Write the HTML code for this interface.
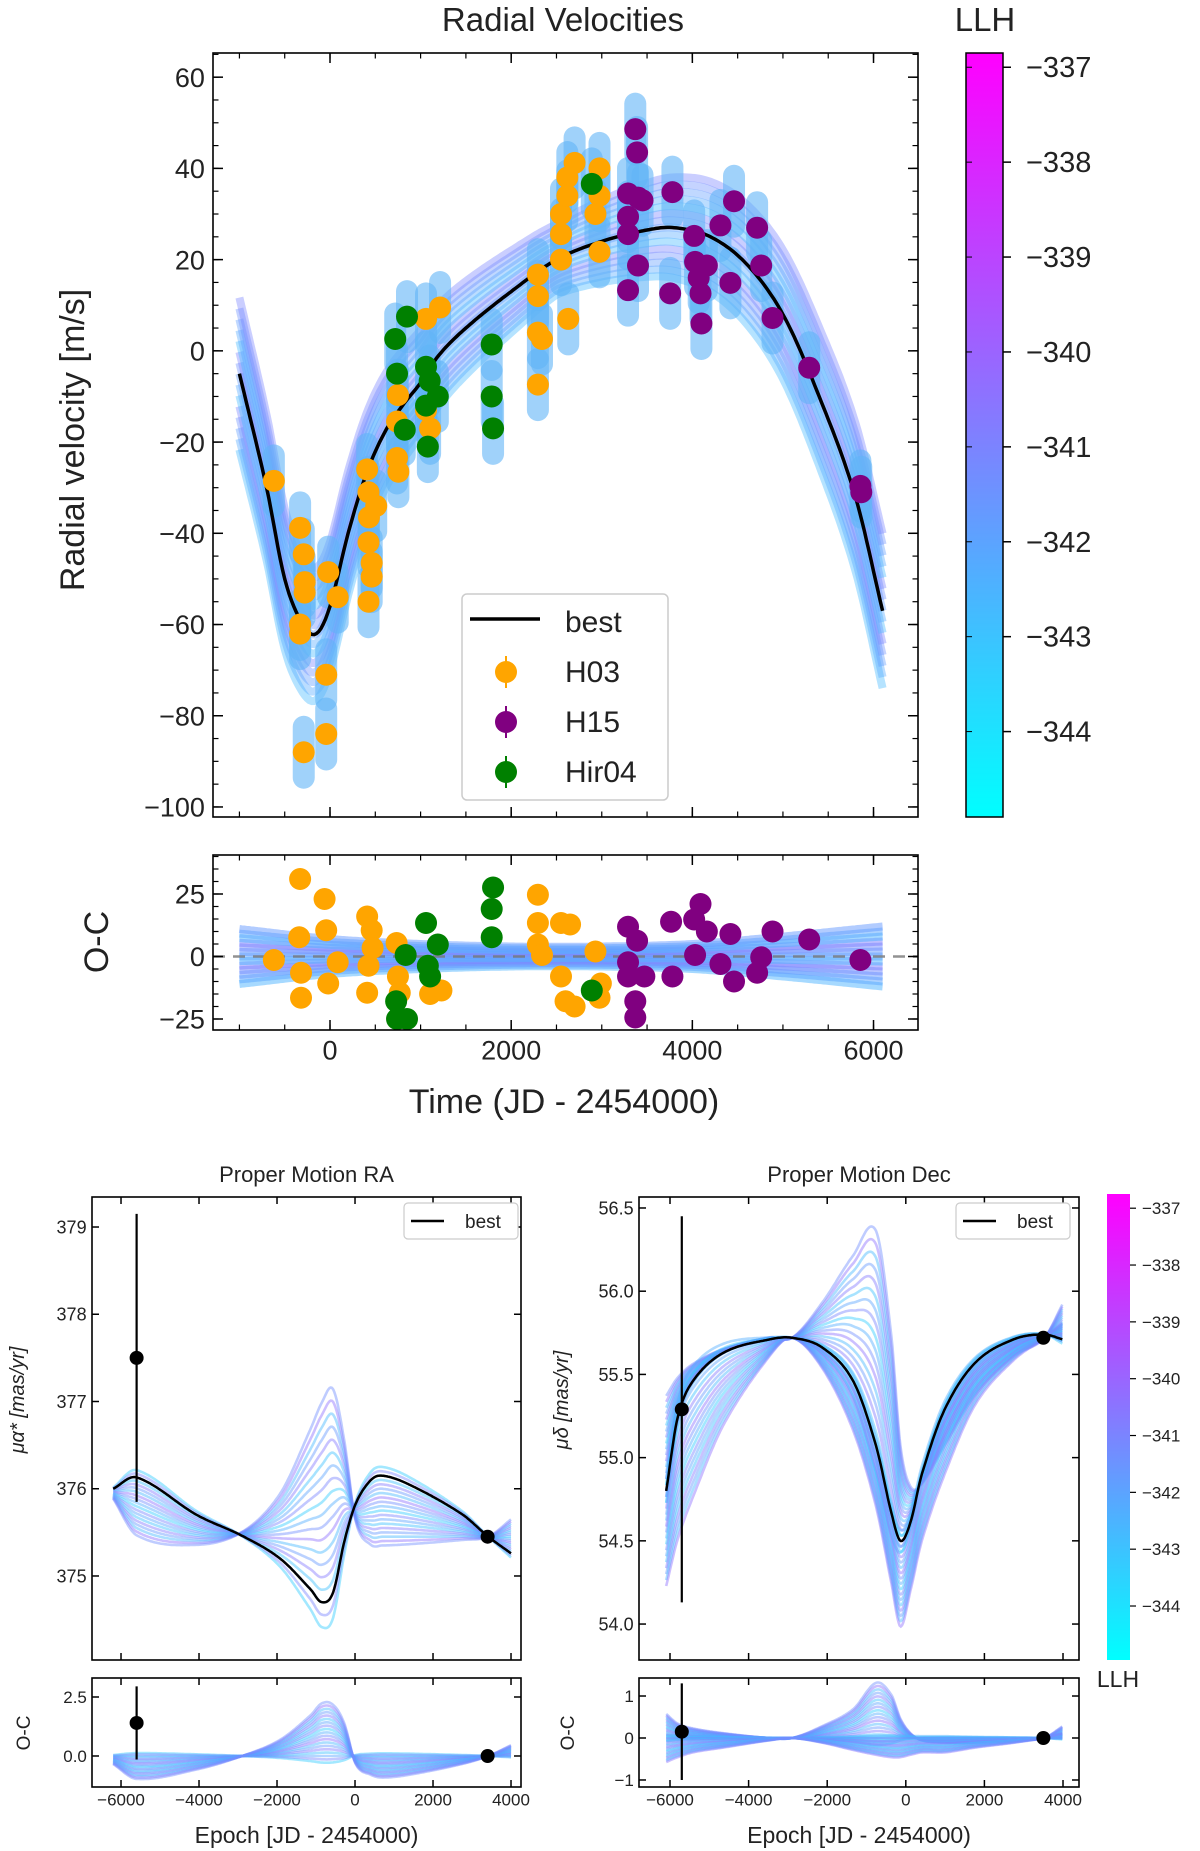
<!DOCTYPE html>
<html><head><meta charset="utf-8"><style>
html,body{margin:0;padding:0;background:#fff}
svg{display:block;font-family:"Liberation Sans","DejaVu Sans",sans-serif}
</style></head><body>
<svg id="fig" xmlns="http://www.w3.org/2000/svg" width="1200" height="1851" viewBox="0 0 1200 1851">
<defs>
<linearGradient id="cool" x1="0" y1="1" x2="0" y2="0"><stop offset="0" stop-color="#00ffff"/><stop offset="1" stop-color="#ff00ff"/></linearGradient>
</defs>
</svg>
<script>
// ---------- RV data ----------
const bestT = [-1000,-700,-500,-300,-150,0,200,400,600,800,1000,1200,1500,2000,2500,3000,3500,3800,4200,4600,5000,5400,5800,6100];
const bestV = [-5,-30,-50,-60,-62,-56,-40,-27,-18,-12,-7,-1,5,13,20,24,26.5,27,25,19,8,-10,-32,-57];
const h03T = [-620,-330,-290,-280,-280,-330,-330,-290,-42,-42,-20,85,410,425,430,425,460,460,425,510,740,750,740,755,1060,1215,1060,1105,2295,2295,2295,2295,2340,2550,2550,2550,2620,2620,2700,2630,2975,2930,2975,2975];
const h03V = [-28.5,-38.8,-44.6,-50.7,-53,-60,-62,-88,-71,-84,-48.5,-54,-26,-31,-36.5,-42,-46.5,-49.5,-55,-34,-15.5,-9.7,-23.5,-26.5,7,9.5,-13,-17,-7.4,16.7,12,4,2.6,20,25.6,30,34,38,41.2,7,21.7,30,40,34];
const h15T = [3290,3290,3290,3290,3370,3390,3400,3400,3450,3780,3755,4020,4030,4070,4090,4100,4160,4310,4420,4460,4715,4760,4885,5290,5855,5865];
const h15V = [13.3,25.6,29.4,34.5,48.6,43.5,33.6,18.7,33,34.8,12.6,25.2,19.5,16,12.6,6,18.7,27.5,14.9,32.8,27,18.7,7.2,-3.7,-29.6,-31];
const hirT = [720,740,850,825,1060,1100,1060,1080,1190,1785,1785,1800,2890];
const hirV = [2.6,-5,7.5,-17.3,-3.5,-6.6,-12,-21,-10,1.4,-10,-17,36.6];
// O-C residuals
const h03OCt = [-620,-330,-60,-340,-320,-320,-42,-20,85,410,460,425,410,470,735,750,770,1105,1230,2295,2295,2295,2340,2550,2650,2550,2600,2700,2930,2975,2990];
const h03OCv = [-1.4,31,23,7.7,-6.5,-16.5,10.5,-10.8,-2.3,16,10.5,-3.7,-14.5,3.4,5.4,-8,-14.5,-15,-13.6,24.7,13.4,4.8,0.6,13.4,12.8,-8,-17.9,-20,2,-16.5,-10.8];
const hirOCt = [730,740,850,835,1060,1080,1105,1190,1800,1785,1785,2890];
const hirOCv = [-17.9,-25,-25,0.6,13.4,-3.7,-8,4.8,27.6,19,7.7,-13.6];
const h15OCt = [3290,3290,3290,3370,3370,3390,3470,3780,3765,4020,4090,4030,4160,4310,4420,4460,4715,4760,4885,5290,5855];
const h15OCv = [11.9,-2.3,-8,-17.9,-24.4,6.3,-8,-8,13.9,14.8,21,0.6,10,-3,9,-10,-6.5,-0.3,10,6.8,-1.4];
const ocBandT = [-1000,0,1000,2000,3000,4000,5000,6100];
const ocBandW = [11,7,5,4,4,5,8,12];
// ---------- Proper motion data ----------
const raT = [-6200,-5600,-4058,-2893,-1922,-1146,-854,-563,-272,19,408,700,1380,2738,3417,4000];
const raBest = [376.0,376.13,375.70,375.46,375.2,374.85,374.70,374.81,375.4,375.83,376.1,376.15,376.05,375.71,375.45,375.26];
const raAlt = [375.9,375.55,375.4,375.5,375.85,376.45,376.7,376.85,376.4,375.65,375.45,375.45,375.45,375.45,375.45,375.6];
const raOCAlt = [-0.3,-0.85,-0.5,0,0.6,1.5,1.95,1.9,1.2,-0.3,-0.7,-0.8,-0.7,-0.3,0,0.4];
const raObsT = [-5600,3400];
const raObsV = [377.5,375.45];
const raObsE = [1.65,0.03];
const raOCv = [1.4,0];
const raOCe = [1.55,0.05];
const decT = [-6097,-5806,-5417,-4641,-3476,-2893,-2117,-1340,-757,-369,-136,117,408,990,1767,2738,3515,4000];
const decBest = [54.8,55.24,55.46,55.63,55.71,55.72,55.66,55.46,55.07,54.67,54.5,54.61,54.9,55.29,55.57,55.71,55.74,55.71];
const decAltA = [55.3,55.45,55.55,55.65,55.72,55.72,55.9,56.12,56.2,55.6,55.0,54.8,54.85,55.1,55.4,55.62,55.72,55.9];
const decAltB = [54.3,54.6,54.85,55.25,55.62,55.72,55.55,55.2,54.75,54.3,54.05,54.25,54.55,54.95,55.35,55.6,55.72,55.8];
const decOCA = [0.5,0.3,0.2,0.1,0,0,0.25,0.6,1.15,0.9,0.4,0.1,-0.05,-0.1,-0.1,-0.05,0,0.25];
const decOCB = [-0.5,-0.4,-0.3,-0.2,-0.05,0,-0.1,-0.25,-0.35,-0.4,-0.4,-0.35,-0.3,-0.3,-0.2,-0.1,0,0.1];
const decObsT = [-5700,3500];
const decObsV = [55.29,55.72];
const decObsE = [1.16,0.02];
const decOCv = [0.15,0];
const decOCe = [1.15,0.03];
const llhTicks = [-337,-338,-339,-340,-341,-342,-343,-344];

const NS='http://www.w3.org/2000/svg';
const svg=document.getElementById('fig');
function mk(tag,attrs,parent){const e=document.createElementNS(NS,tag);for(const k in attrs)e.setAttribute(k,attrs[k]);(parent||svg).appendChild(e);return e;}
function txt(s,attrs,parent){const e=mk('text',attrs,parent);e.textContent=s;return e;}
function scale(d0,d1,r0,r1){return v=>r0+(v-d0)/(d1-d0)*(r1-r0);}
function cool(v){v=Math.max(0,Math.min(1,v));return 'rgb('+Math.round(255*v)+','+Math.round(255*(1-v))+',255)';}
// cubic Hermite (Catmull-Rom style) interpolation through data points
function interp(xs,ys,x){const n=xs.length;if(x<=xs[0])return ys[0];if(x>=xs[n-1])return ys[n-1];
  let i=1;while(x>xs[i])i++;i--;
  const m=j=>{if(j<=0)return (ys[1]-ys[0])/(xs[1]-xs[0]);if(j>=n-1)return (ys[n-1]-ys[n-2])/(xs[n-1]-xs[n-2]);return (ys[j+1]-ys[j-1])/(xs[j+1]-xs[j-1]);};
  const h=xs[i+1]-xs[i],t=(x-xs[i])/h,t2=t*t,t3=t2*t;
  return (2*t3-3*t2+1)*ys[i]+(t3-2*t2+t)*h*m(i)+(-2*t3+3*t2)*ys[i+1]+(t3-t2)*h*m(i+1);}
function line(pts){return 'M'+pts.map(p=>p[0].toFixed(1)+','+p[1].toFixed(1)).join('L');}

function frame(g,x0,y0,x1,y1,sx,sy,xt,yt,xm,ym,fs,xlab,ylab,ticklen){
  const L=ticklen||7;
  for(const v of xm){const X=sx(v);mk('line',{x1:X,y1:y1,x2:X,y2:y1-L*0.55,stroke:'#000','stroke-width':1.2},g);mk('line',{x1:X,y1:y0,x2:X,y2:y0+L*0.55,stroke:'#000','stroke-width':1.2},g);}
  for(const v of ym){const Y=sy(v);mk('line',{x1:x0,y1:Y,x2:x0+L*0.55,y2:Y,stroke:'#000','stroke-width':1.2},g);mk('line',{x1:x1,y1:Y,x2:x1-L*0.55,y2:Y,stroke:'#000','stroke-width':1.2},g);}
  xt.forEach((v,i)=>{const X=sx(v);mk('line',{x1:X,y1:y1,x2:X,y2:y1-L,stroke:'#000','stroke-width':1.5},g);mk('line',{x1:X,y1:y0,x2:X,y2:y0+L,stroke:'#000','stroke-width':1.5},g);
    if(xlab){const t=txt(xlab[i],{x:X,y:y1+fs*1.1,'font-size':fs,'text-anchor':'middle',fill:'#222'},g);}});
  yt.forEach((v,i)=>{const Y=sy(v);mk('line',{x1:x0,y1:Y,x2:x0+L,y2:Y,stroke:'#000','stroke-width':1.5},g);mk('line',{x1:x1,y1:Y,x2:x1-L,y2:Y,stroke:'#000','stroke-width':1.5},g);
    if(ylab){const t=txt(ylab[i],{x:x0-fs*0.3,y:Y+fs*0.36,'font-size':fs,'text-anchor':'end',fill:'#222'},g);}});
  const r=mk('rect',{x:x0,y:y0,width:x1-x0,height:y1-y0,fill:'none',stroke:'#000','stroke-width':1.6},g);
  
  
}
function range(a,b,s){const r=[];for(let v=a;v<=b+1e-9;v+=s)r.push(+v.toFixed(6));return r;}
function minus(v){return String(v).replace('-','\u2212');}

// ================= RV panel =================
(function(){
const g=mk('g',{});


const X0=213,X1=918,Y0=53,Y1=817;
const sx=scale(-1291.7,6491,X0,X1), sy=scale(65.3,-102.2,Y0,Y1);
const clip=mk('clipPath',{id:'c1'},g);mk('rect',{x:X0,y:Y0,width:X1-X0,height:Y1-Y0},clip);
const fan=mk('g',{'clip-path':'url(#c1)'},g);


const T=[];for(let t=-1000;t<=6100;t+=25)T.push(t);
for(let k=-7;k<=7;k++){const pts=T.map(t=>[sx(t),sy(interp(bestT,bestV,t)+k*1.1*(1+Math.abs(t-2500)/3000))]);
  const p=mk('path',{d:line(pts),fill:'none',stroke:cool(0.28+0.05*((k+7)%5)),'stroke-width':8,'stroke-opacity':0.4},fan);
  }
const allT=h03T.concat(h15T,hirT), allV=h03V.concat(h15V,hirV);
allT.forEach((t,i)=>{const r=mk('rect',{x:sx(t)-11,y:sy(allV[i]+8),width:22,height:sy(allV[i]-8)-sy(allV[i]+8),rx:11,fill:'#60b4f6','fill-opacity':0.6},fan);
  });
const bl=mk('path',{d:line(T.map(t=>[sx(t),sy(interp(bestT,bestV,t))])),fill:'none',stroke:'#000','stroke-width':3.5},fan);


function pts(ts,vs,col,name){ts.forEach((t,i)=>{const c=mk('circle',{cx:sx(t),cy:sy(vs[i]),r:11,fill:col},fan);
  });}
pts(h03T,h03V,'#ffa500','h03-point');pts(hirT,hirV,'#008000','hir04-point');pts(h15T,h15V,'#800080','h15-point');
frame(g,X0,Y0,X1,Y1,sx,sy,[0,2000,4000,6000],range(-100,60,20),range(-1000,6000,500),range(-100,65,5),27,null,range(-100,60,20).map(minus),10);
const lg=mk('g',{},g);


mk('rect',{x:462,y:594,width:206,height:206,rx:5,fill:'#fff','fill-opacity':0.85,stroke:'#ccc','stroke-width':1.5},lg);
mk('line',{x1:470,y1:619,x2:540,y2:619,stroke:'#000','stroke-width':3.5},lg);
const lt=[['best',622,null],['H03',672,'#ffa500'],['H15',722,'#800080'],['Hir04',772,'#008000']];
lt.forEach(e=>{const t=txt(e[0],{x:565,y:e[1]+10,'font-size':30,fill:'#222'},lg);
  if(e[2]){mk('line',{x1:506,y1:e[1]-16,x2:506,y2:e[1]+16,stroke:e[2],'stroke-width':2},lg);mk('circle',{cx:506,cy:e[1],r:11,fill:e[2]},lg);}});
const t1=txt('Radial Velocities',{x:563,y:31,'font-size':33,'text-anchor':'middle',fill:'#222'},g);

const yl=txt('Radial velocity [m/s]',{x:0,y:0,'font-size':34,'text-anchor':'middle',fill:'#222',transform:'translate(84,440) rotate(-90)'},g);


const O0=855,O1=1030;const oy=scale(40.6,-29.4,O0,O1);
const clip2=mk('clipPath',{id:'c2'},g);mk('rect',{x:X0,y:O0,width:X1-X0,height:O1-O0},clip2);
const of=mk('g',{'clip-path':'url(#c2)'},g);


for(let k=-6;k<=6;k++){const p=T.map(t=>[sx(t),oy(k/6*interp(ocBandT,ocBandW,t))]);
  const pp=mk('path',{d:line(p),fill:'none',stroke:cool(0.3+0.05*((k+6)%5)),'stroke-width':8,'stroke-opacity':0.5},of);
  }
const dl=mk('line',{x1:X0,x2:X1,y1:oy(0),y2:oy(0),stroke:'#777','stroke-width':2.5,'stroke-dasharray':'12,8','stroke-opacity':0.8},of);

function opts(ts,vs,col,name){ts.forEach((t,i)=>{const c=mk('circle',{cx:sx(t),cy:oy(vs[i]),r:11,fill:col},of);});}
opts(h03OCt,h03OCv,'#ffa500','h03-residual');opts(hirOCt,hirOCv,'#008000','hir04-residual');opts(h15OCt,h15OCv,'#800080','h15-residual');
frame(g,X0,O0,X1,O1,sx,oy,[0,2000,4000,6000],[-25,0,25],range(-1000,6000,500),range(-25,40,5),27,['0','2000','4000','6000'],[minus(-25),'0','25'],10);
const xl=txt('Time (JD - 2454000)',{x:564,y:1113,'font-size':34,'text-anchor':'middle',fill:'#222'},g);

const ol=txt('O-C',{x:0,y:0,'font-size':34,'text-anchor':'middle',fill:'#222',transform:'translate(108,942) rotate(-90)'},g);

const cb=mk('rect',{x:966,y:53,width:37,height:764,fill:'url(#cool)',stroke:'#000','stroke-width':1.5},g);

const cy=scale(-336.85,-344.9,53,817);
llhTicks.forEach(v=>{mk('line',{x1:1003,x2:1011,y1:cy(v),y2:cy(v),stroke:'#000','stroke-width':1.5},g);mk('line',{x1:966,x2:972,y1:cy(v),y2:cy(v),stroke:'#000','stroke-width':1},g);
  const t=txt(minus(v),{x:1026,y:cy(v)+10,'font-size':29,fill:'#222'},g);});
const ll=txt('LLH',{x:985,y:31,'font-size':33,'text-anchor':'middle',fill:'#222'},g);

})();

// ================= PM panels =================
function pmPanel(cfg){
const g=mk('g',{});


const {X0,X1}=cfg;const Y0=1197,Y1=1660,O0=1678,O1=1787;
const sx=scale(cfg.xd[0],cfg.xd[1],X0,X1), sy=scale(cfg.yd[0],cfg.yd[1],Y0,Y1), oy=scale(cfg.od[0],cfg.od[1],O0,O1);
const id=cfg.name+'c';const cp=mk('clipPath',{id:id},g);mk('rect',{x:X0,y:Y0,width:X1-X0,height:Y1-Y0},cp);
const id2=cfg.name+'o';const cp2=mk('clipPath',{id:id2},g);mk('rect',{x:X0,y:O0,width:X1-X0,height:O1-O0},cp2);
const f=mk('g',{'clip-path':'url(#'+id+')'},g);
const fo=mk('g',{'clip-path':'url(#'+id2+')'},g);
const T=[];for(let t=cfg.T[0];t<=cfg.T[cfg.T.length-1];t+=30)T.push(t);
cfg.alts.forEach((alt,ai)=>{const ocAlt=cfg.ocAlts[ai];
 for(let k=-2;k<=16;k++){const w=k/14;const col=cool(0.2+0.4*(((k+2)*7+ai*3)%10)/10);
  const p=mk('path',{d:line(T.map(t=>{const b=interp(cfg.T,cfg.best,t);return [sx(t),sy(b+w*(interp(cfg.T,alt,t)-b))];})),fill:'none',stroke:col,'stroke-width':2.6,'stroke-opacity':0.45},f);
  
  const q=mk('path',{d:line(T.map(t=>[sx(t),oy(w*interp(cfg.T,ocAlt,t))])),fill:'none',stroke:col,'stroke-width':2.6,'stroke-opacity':0.45},fo);
  }});
const bl=mk('path',{d:line(T.map(t=>[sx(t),sy(interp(cfg.T,cfg.best,t))])),fill:'none',stroke:'#000','stroke-width':2.5},f);

cfg.obsT.forEach((t,i)=>{mk('line',{x1:sx(t),x2:sx(t),y1:sy(cfg.obsV[i]+cfg.obsE[i]),y2:sy(cfg.obsV[i]-cfg.obsE[i]),stroke:'#000','stroke-width':2.2},f);
  const c=mk('circle',{cx:sx(t),cy:sy(cfg.obsV[i]),r:7,fill:'#000'},f);
  mk('line',{x1:sx(t),x2:sx(t),y1:oy(cfg.ocV[i]+cfg.ocE[i]),y2:oy(cfg.ocV[i]-cfg.ocE[i]),stroke:'#000','stroke-width':2.2},fo);
  const c2=mk('circle',{cx:sx(t),cy:oy(cfg.ocV[i]),r:7,fill:'#000'},fo);});
const xt=[-6000,-4000,-2000,0,2000,4000];
frame(g,X0,Y0,X1,Y1,sx,sy,xt,cfg.yt,[],[],18,null,cfg.ytl,7);
frame(g,X0,O0,X1,O1,sx,oy,xt,cfg.ot,[],[],17,xt.map(minus),cfg.otl,7);
const lg=mk('g',{},g);
mk('rect',{x:cfg.lx,y:1203,width:114,height:36,rx:4,fill:'#fff',stroke:'#ccc','stroke-width':1.2},lg);
mk('line',{x1:cfg.lx+7,x2:cfg.lx+40,y1:1221,y2:1221,stroke:'#000','stroke-width':2.5},lg);
const lt=txt('best',{x:cfg.lx+61,y:1228,'font-size':19,fill:'#222'},lg);
const tt=txt(cfg.title,{x:(X0+X1)/2,y:1182,'font-size':22,'text-anchor':'middle',fill:'#222'},g);
const xl=txt('Epoch [JD - 2454000)',{x:(X0+X1)/2,y:1843,'font-size':23,'text-anchor':'middle',fill:'#222'},g);
const yl=txt(cfg.ylab,{x:0,y:0,'font-size':20,'text-anchor':'middle',fill:'#222','font-style':'italic',transform:'translate('+cfg.ylx+',1400) rotate(-90)'},g);
const ol=txt('O-C',{x:0,y:0,'font-size':19,'text-anchor':'middle',fill:'#222',transform:'translate('+(cfg.ylx+6)+',1733) rotate(-90)'},g);
}
pmPanel({name:'pm-ra-panel',title:'Proper Motion RA',X0:92,X1:521,xd:[-6744,4256],yd:[379.344,374.037],od:[3.305,-1.314],
 T:raT,best:raBest,alts:[raAlt],ocAlts:[raOCAlt],obsT:raObsT,obsV:raObsV,obsE:raObsE,ocV:raOCv,ocE:raOCe,
 yt:[375,376,377,378,379],ytl:['375','376','377','378','379'],ot:[0,2.5],otl:['0.0','2.5'],lx:404,ylab:'\u03bc\u03b1* [mas/yr]',ylx:24});
pmPanel({name:'pm-dec-panel',title:'Proper Motion Dec',X0:639,X1:1079,xd:[-6789,4407],yd:[56.566,53.784],od:[1.429,-1.167],
 T:decT,best:decBest,alts:[decAltA,decAltB],ocAlts:[decOCA,decOCB],obsT:decObsT,obsV:decObsV,obsE:decObsE,ocV:decOCv,ocE:decOCe,
 yt:[54,54.5,55,55.5,56,56.5],ytl:['54.0','54.5','55.0','55.5','56.0','56.5'],ot:[-1,0,1],otl:[minus(-1),'0','1'],lx:956,ylab:'\u03bc\u03b4 [mas/yr]',ylx:568});
(function(){
const cb=mk('rect',{x:1107,y:1194,width:23,height:466,fill:'url(#cool)'});

const cy=scale(-336.75,-344.95,1194,1660);
llhTicks.forEach(v=>{mk('line',{x1:1130,x2:1136,y1:cy(v),y2:cy(v),stroke:'#000','stroke-width':1.2});
  const t=txt(minus(v),{x:1142,y:cy(v)+6,'font-size':17,fill:'#222'});});
const l=txt('LLH',{x:1118,y:1687,'font-size':23,'text-anchor':'middle',fill:'#222'});

})();
</script>
</body></html>
